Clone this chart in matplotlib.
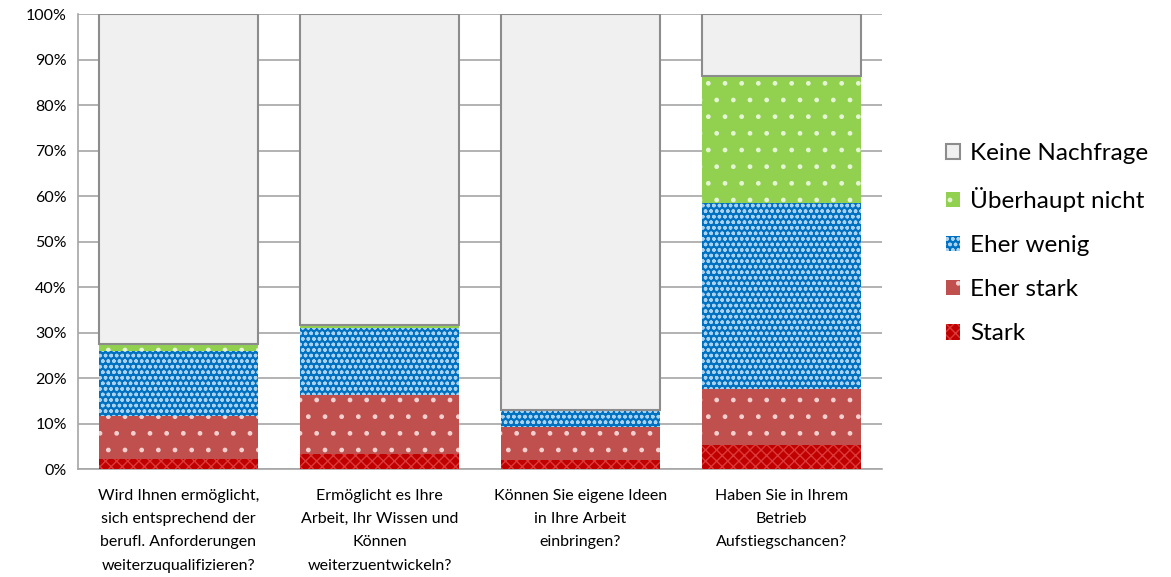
import matplotlib
matplotlib.use("Agg")
import matplotlib.pyplot as plt
import numpy as np

plt.rcParams['font.family'] = ['Lato', 'DejaVu Sans']

questions = [
    "Wird Ihnen ermöglicht,\nsich entsprechend der\nberufl. Anforderungen\nweiterzuqualifizieren?",
    "Ermöglicht es Ihre\nArbeit, Ihr Wissen und\nKönnen\nweiterzuentwickeln?",
    "Können Sie eigene Ideen\nin Ihre Arbeit\neinbringen?",
    "Haben Sie in Ihrem\nBetrieb\nAufstiegschancen?",
]

# shares in percent, one list per answer (bottom to top)
stark = [2.2, 3.3, 2.1, 5.3]
eher_stark = [9.5, 13.0, 7.2, 12.2]
eher_wenig = [14.3, 14.8, 3.7, 40.9]
ueberhaupt_nicht = [1.4, 0.5, 0.0, 28.0]
keine_nachfrage = [72.6, 68.4, 87.0, 13.6]

answers = ["Stark", "Eher stark", "Eher wenig", "Überhaupt nicht", "Keine Nachfrage"]
series = [stark, eher_stark, eher_wenig, ueberhaupt_nicht, keine_nachfrage]

# face colour, hatch colour, hatch pattern
styles = [
    ("#C00000", "#DC3A3A", "xxx"),
    ("#C0504D", "#F2D0CF", "."),
    ("#0070C0", "#A9D2F0", "ooo"),
    ("#92D050", "#E4F5D4", "."),
    ("#F0F0F0", "#808080", ""),
]

fig = plt.figure(figsize=(11.71, 5.77), dpi=100)
ax = fig.add_axes([0.0666, 0.187, 0.6866, 0.7887])

x = np.arange(len(questions))
bottom = np.zeros(len(questions))
handles = []
for name, vals, (fc, hc, hatch) in zip(answers, series, styles):
    vals = np.array(vals)
    if name == "Keine Nachfrage":
        b = ax.bar(x, vals, 0.79, bottom=bottom, color=fc, edgecolor="#8C8C8C",
                   linewidth=1.5, label=name, zorder=3)
    else:
        b = ax.bar(x, vals, 0.79, bottom=bottom, color=fc, edgecolor=hc,
                   linewidth=0, hatch=hatch, label=name, zorder=3)
    handles.append(b)
    bottom += vals

ax.set_xlim(-0.5, 3.5)
ax.set_ylim(0, 100)
ax.set_yticks(np.arange(0, 101, 10))
ax.set_yticklabels([f"{v}%" for v in range(0, 101, 10)], fontsize=11.5)
ax.set_xticks(x)
ax.set_xticklabels(questions, fontsize=11.5, linespacing=1.85, va="top")
ax.tick_params(axis="both", length=0, pad=8)
ax.tick_params(axis="x", pad=14)

ax.grid(axis="y", color="#A6A6A6", linewidth=1.2, zorder=0)
for side in ["top", "right"]:
    ax.spines[side].set_visible(False)
for side in ["left", "bottom"]:
    ax.spines[side].set_color("#A6A6A6")
    ax.spines[side].set_linewidth(1.2)

fig.legend(handles[::-1], answers[::-1], loc="upper left",
           bbox_to_anchor=(0.789, 0.79), frameon=False, fontsize=17.5,
           handlelength=0.6, handleheight=0.6, handletextpad=0.4,
           labelspacing=0.95)

fig.savefig("out.png", dpi=100)
